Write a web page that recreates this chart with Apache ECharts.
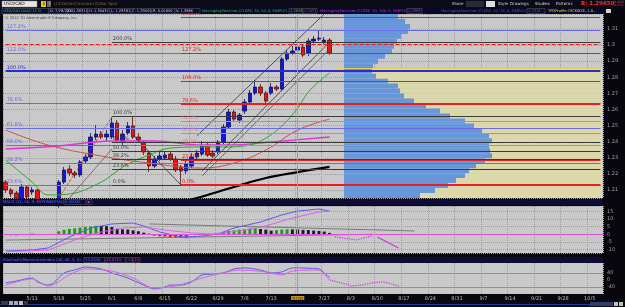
<!DOCTYPE html>
<html>
<head>
<meta charset="utf-8">
<title>USD/CAD daily</title>
<script src="https://cdn.jsdelivr.net/npm/echarts@6.0.0/dist/echarts.min.js"></script>
<style>
html,body{margin:0;padding:0;background:#07070d;}
#main{width:625px;height:307px;}
</style>
</head>
<body>
<div id="main"></div>
<script>
// trading days from 5/4/2015 (weekdays only)
var dates = [];
var d = new Date(2015, 4, 4);
while (dates.length < 113) {
	if (d.getDay() != 0 && d.getDay() != 6) dates.push((d.getMonth() + 1) + "/" + d.getDate());
	d.setDate(d.getDate() + 1);
}

// open, close, low, high
var candles = [
	[1.2149,1.2100,1.2081,1.2162],[1.2100,1.2075,1.2056,1.2112],[1.2081,1.2050,1.2030,1.2094],[1.2044,1.2118,1.2030,1.2137],[1.2118,1.2056,1.2038,1.2131],
	[1.2087,1.2100,1.2069,1.2118],[1.2100,1.2038,1.2020,1.2106],[1.2038,1.2000,1.1980,1.2045],[1.2000,1.1960,1.1920,1.2010],[1.1960,1.2010,1.1930,1.2030],
	[1.2010,1.2149,1.1990,1.2162],[1.2149,1.2224,1.2137,1.2243],[1.2230,1.2205,1.2187,1.2255],[1.2205,1.2193,1.2174,1.2218],[1.2193,1.2274,1.2180,1.2286],
	[1.2280,1.2305,1.2267,1.2323],[1.2305,1.2429,1.2292,1.2454],[1.2429,1.2447,1.2410,1.2503],[1.2447,1.2429,1.2416,1.2466],[1.2429,1.2447,1.2404,1.2472],
	[1.2429,1.2516,1.2416,1.2553],[1.2516,1.2410,1.2398,1.2534],[1.2398,1.2447,1.2379,1.2472],[1.2454,1.2497,1.2441,1.2522],[1.2497,1.2429,1.2416,1.2559],
	[1.2429,1.2410,1.2398,1.2454],[1.2398,1.2336,1.2317,1.2410],[1.2329,1.2249,1.2211,1.2342],[1.2249,1.2292,1.2236,1.2311],[1.2292,1.2311,1.2280,1.2336],
	[1.2298,1.2317,1.2286,1.2336],[1.2323,1.2292,1.2280,1.2342],[1.2292,1.2224,1.2211,1.2311],[1.2243,1.2218,1.2131,1.2255],[1.2218,1.2261,1.2199,1.2280],
	[1.2249,1.2305,1.2236,1.2329],[1.2305,1.2329,1.2292,1.2348],[1.2323,1.2379,1.2311,1.2404],[1.2379,1.2317,1.2305,1.2398],[1.2329,1.2311,1.2298,1.2348],
	[1.2336,1.2398,1.2323,1.2410],[1.2398,1.2491,1.2385,1.2509],[1.2491,1.2584,1.2478,1.2603],[1.2584,1.2540,1.2522,1.2596],[1.2534,1.2565,1.2516,1.2578],
	[1.2590,1.2646,1.2572,1.2665],[1.2646,1.2702,1.2634,1.2721],[1.2702,1.2739,1.2690,1.2783],[1.2739,1.2702,1.2683,1.2758],[1.2702,1.2652,1.2640,1.2714],
	[1.2702,1.2739,1.2690,1.2764],[1.2739,1.2727,1.2714,1.2752],[1.2727,1.2913,1.2714,1.2926],[1.2913,1.2950,1.2901,1.2969],[1.2950,1.2963,1.2938,1.2994],
	[1.2969,1.2988,1.2957,1.3006],[1.2988,1.2938,1.2926,1.3000],[1.2950,1.3025,1.2932,1.3043],[1.3025,1.3037,1.3012,1.3056],[1.3037,1.3043,1.3025,1.3093],
	[1.3019,1.3031,1.3006,1.3050],[1.3031,1.2950,1.2938,1.3043]
];

// moving averages [day index, price]
var ma20 = [[0,1.2286],[5,1.2149],[8,1.2069],[12,1.2075],[18,1.2149],[21,1.2218],[23,1.2261],[27,1.2317],[31,1.2360],[37,1.2367],[41,1.2367],[46,1.2379],[49,1.2422],[52,1.2497],[55,1.2609],[57,1.2708],[60,1.2801],[61,1.2826]];
var ma50 = [[0,1.2472],[8,1.2379],[18,1.2311],[27,1.2267],[37,1.2236],[43,1.2267],[49,1.2348],[55,1.2472],[61,1.2540]];
var ma100 = [[0,1.2354],[10,1.2373],[20,1.2404],[28,1.2404],[37,1.2379],[42,1.2379],[50,1.2398],[61,1.2429]];
var ma200 = [[30,1.2000],[36,1.2050],[43,1.2118],[49,1.2174],[55,1.2211],[61,1.2243]];

// fib levels
var blueFibPct = ['127.2%','112.0%','100.0%','78.6%','61.8%','50.0%','38.2%','23.6%'];
var blueFibPrice = [1.3093,1.2950,1.2839,1.2641,1.2485,1.2376,1.2266,1.2131];
var redFibPct = ['161.8%','127.2%','100.0%','78.6%','61.8%','50.0%','38.2%','23.6%','0.0%'];
var redFibPrice = [1.3171,1.2949,1.2774,1.2635,1.2527,1.2452,1.2377,1.2282,1.2131];
var blackFibPct = ['200.0%','161.8%','100.0%','61.8%','50.0%','38.2%','23.6%','0.0%'];
var blackFibPrice = [1.3015,1.2845,1.2558,1.2394,1.2343,1.2293,1.2229,1.2129];
var dashedLevel = 1.3006;
var tpoLevel = 1.2858;
var lastPrice = 1.2950;

// drawn trend lines [day index, price]
var channelUp = [[36,1.2435],[60,1.3193]];
var channelLow1 = [[37,1.2218],[61,1.3019]];
var channelLow2 = [[37,1.2187],[61,1.2975]];
var fibAnchor = [[10,1.2050],[20,1.2553]];
var grayLeg = [[12,1.2050],[20,1.2354]];
var blackLeg = [[24,1.2441],[33,1.2131]];

// volume profile bins, top to bottom
var profileVol = [54,61,66,64,57,53,50,48,41,34,29,28,32,44,54,56,60,70,82,96,106,121,130,138,145,148,145,146,148,141,132,125,121,112,104,91,76];
var valueArea = [0,0,0,0,0,0,0,0,0,0,0,258,258,258,258,258,258,258,258,258,258,258,258,258,258,258,258,258,258,258,258,258,258,258,258,258,258];

// MACD
var macdHist = [-0.5,-0.6,-0.7,0,0,0.5,0,0,0,0,
	2.0,2.9,3.5,3.9,4.4,4.9,5.2,5.6,5.5,5.3,4.8,3.7,3.3,3.1,2.6,2.0,1.1,0.4,
	-0.9,-1.3,-1.5,-1.8,-2.2,-2.4,-2.6,-1.8,-1.1,-0.7,-0.5,
	0.2,0.9,1.5,2.2,2.6,3.1,3.3,3.7,3.9,3.5,3.1,2.4,2.8,3.1,3.3,3.2,3.1,2.9,2.8,2.4,2.2,1.8,0.9];
var macdLine = [[0,-11.0],[5,-10.3],[8,-9.0],[12,-1.8],[16,4.1],[20,6.8],[24,7.4],[26,5.5],[29,1.5],[33,-1.8],[37,-1.1],[40,0.2],[43,4.1],[48,8.1],[52,12.7],[55,15.3],[59,16.6],[61,15.3]];
var macdSignal = [[0,-11.4],[8,-10.4],[14,-2.4],[18,1.5],[22,4.1],[26,4.8],[30,2.8],[35,0.9],[39,0.2],[44,2.2],[49,5.5],[54,10.7],[59,14.7],[61,15.3]];
var macdTrend1 = [[27,6.8],[77,2.2]];
var macdTrend2 = [[0,-3.8],[69,0]];
var macdProjDot = [[62,-1.8],[66,-3.7],[69,-1.1]];
var macdProj = [[70,-1.8],[74,-9.0]];

// stochastic momentum index
var smiLine = [[0,-17],[2,-6],[5,11],[6,-11],[8,-29],[9,-17],[11,40],[13,57],[15,74],[18,63],[20,40],[23,11],[26,-29],[28,-51],[30,-40],[31,-29],[33,-29],[35,-11],[37,29],[39,34],[41,40],[43,63],[45,69],[48,57],[50,40],[52,46],[54,69],[59,63],[60,40],[61,15]];
var smiSignal = [[0,-29],[5,6],[8,-34],[12,29],[15,63],[20,51],[24,11],[28,-46],[32,-34],[37,11],[40,34],[44,57],[49,46],[52,29],[54,51],[59,57],[60,34],[61,0]];
var smiProj = [[61,0],[64,-23],[65,-34],[67,-29],[69,-17],[71,-11],[72,-17],[74,-34]];
var smiLevels = [40,-40];
var smiLast = 15.2244;

var panelGray = '#c9c9c9';
var font = '"DejaVu Sans", sans-serif';
var lastIdx = 112;

function hline(price, from, color, width, pct, type, hideLine) {
	return [[{coord:[from, price], lineStyle:{color:color, width:width, type:type || 'solid', opacity:hideLine ? 0 : 1},
		label:{show:!!pct, position:'insideStartTop', formatter:pct || '', color:color, fontSize:5, fontFamily:font, distance:1}},
		{coord:[lastIdx, price]}]];
}
function priceTag(price, from, color) {
	return [{coord:[from, price], lineStyle:{color:color, width:1, opacity:0},
		label:{show:true, position:'insideEndTop', formatter:'[' + price.toFixed(4) + ']', color:color, fontSize:5, fontFamily:font, distance:1}},
		{coord:[lastIdx, price]}];
}

var lines = [];
var i;
for (i = 0; i < blueFibPrice.length; i++) {
	lines = lines.concat(hline(blueFibPrice[i], 0, i == 2 ? '#2a2ad8' : '#6b6be8', i == 2 ? 2 : 1, blueFibPct[i]));
}
lines.push(priceTag(blueFibPrice[0], 0, '#3a3ad0'));
lines.push(priceTag(blueFibPrice[4], 0, '#3a3ad0'));
for (i = 0; i < blackFibPrice.length; i++) {
	lines = lines.concat(hline(blackFibPrice[i], 20, '#3a3a3a', 1, blackFibPct[i], null, i == 1));
	if (i != 1 && i != 7) lines.push(priceTag(blackFibPrice[i], 20, '#202020'));
}
for (i = 0; i < redFibPrice.length; i++) {
	var pink = (i == 4 || i == 5 || i == 6);
	lines = lines.concat(hline(redFibPrice[i], 33, pink ? '#e87a7a' : '#e42020', (i == 8 || i == 3) ? 2 : 1, redFibPct[i]));
	lines.push(priceTag(redFibPrice[i], 33, '#d01818'));
}
lines = lines.concat(hline(dashedLevel, 0, '#e81a1a', 1, null, 'dashed'));
lines = lines.concat(hline(tpoLevel, 62, '#e8d040', 1));
lines.push([{coord:[0, lastPrice], lineStyle:{opacity:0},
	label:{show:true, position:'end', formatter:lastPrice.toFixed(4), color:'#fff', backgroundColor:'#e01010', fontSize:5, fontFamily:font, padding:[1,1], distance:1}},
	{coord:[lastIdx, lastPrice]}]);
lines.push([{coord:[0, tpoLevel], lineStyle:{opacity:0},
	label:{show:true, position:'end', formatter:tpoLevel.toFixed(4), color:'#201000', backgroundColor:'#d08a20', fontSize:5, fontFamily:font, padding:[1,1], distance:1}},
	{coord:[lastIdx, tpoLevel]}]);
lines.push({xAxis:55, lineStyle:{color:'#b89a6a', width:1, type:'solid'}, label:{show:false}});

function histColor(idx) {
	var v = macdHist[idx], p = idx > 0 ? macdHist[idx - 1] : v;
	if (v >= 0) return v >= p ? '#18a018' : '#1c1c2c';
	return v <= p ? '#e01818' : '#f2f2f2';
}
var histData = macdHist.map(function (v, idx) {
	return {value:v, itemStyle:{color:histColor(idx)}};
});

function trend(name, data, xi, yi, color, width, type) {
	return {name:name, type:'line', xAxisIndex:xi, yAxisIndex:yi, data:data, symbol:'none', silent:true,
		lineStyle:{color:color, width:width || 1, type:type || 'solid'}, z:3};
}
function ma(name, data, color, width) {
	return {name:name, type:'line', xAxisIndex:0, yAxisIndex:0, data:data, symbol:'none', smooth:0.4, silent:true,
		lineStyle:{color:color, width:width || 1}, z:3};
}

var weekly = function (idx) { return idx % 5 == 0; };
function catAxis(grid, showLabel) {
	return {type:'category', gridIndex:grid, data:dates, boundaryGap:true,
		axisLine:{show:false}, axisTick:{show:false},
		axisLabel:{show:showLabel, interval:function (idx) { return idx % 5 == 0 && idx > 0; },
			color:'#c8bea8', fontSize:5, fontFamily:font, margin:2,
			formatter:function (v) { return v == '7/20' ? '{hl|' + v + '}' : v; },
			rich:{hl:{backgroundColor:'#c8901c', color:'#2a1800', fontSize:5, padding:[1,1]}}},
		splitLine:{show:true, interval:weekly, lineStyle:{color:'#9c9c9c', type:'dotted', width:1}}};
}
function valAxis(grid, min, max, extra) {
	var ax = {type:'value', gridIndex:grid, position:'right', min:min, max:max, scale:true,
		axisLine:{show:false}, axisTick:{show:false},
		axisLabel:{color:'#a0a0a0', fontSize:5, fontFamily:font, margin:4, showMinLabel:false, showMaxLabel:false},
		splitLine:{show:true, lineStyle:{color:'#9c9c9c', type:'dotted', width:1}}};
	for (var k in extra) ax[k] = extra[k];
	return ax;
}

function txt(x, y, s, color, size, weight) {
	return {type:'text', x:x, y:y, silent:true, z:100,
		style:{text:s, fill:color, fontSize:size || 4, fontFamily:font, fontWeight:weight || 'normal'}};
}
function box(x, y, w, h, fill, stroke) {
	return {type:'rect', silent:true, z:99, shape:{x:x, y:y, width:w, height:h},
		style:{fill:fill, stroke:stroke || null, lineWidth:stroke ? 0.5 : 0}};
}

var graphics = [
	box(0, 0, 625, 8, '#0b0b18'),
	box(2, 1, 35, 6, '#e6e6e6', '#888'), txt(4, 1.5, 'USD/CAD', '#000', 4.5),
	box(41, 1, 5, 6, '#e8c820'), txt(42.5, 1.5, '1', '#000', 4.5),
	box(47, 1, 4, 6, '#6a6a6a'), txt(48.5, 1.5, '!', '#ddd', 4.5),
	txt(54, 2, 'U.S.Dollar/Canadian Dollar Spot', '#7a6a3a', 4),
	txt(452, 2, 'Share', '#d8d8d8', 4), box(466, 1, 18, 6, '#2a2a3a'), box(486, 1, 9, 6, '#e0e0e0'),
	txt(498, 2, 'Style', '#d8d8d8', 4), txt(510, 2, 'Drawings', '#d8d8d8', 4),
	txt(535, 2, 'Studies', '#d8d8d8', 4), txt(556, 2, 'Patterns', '#d8d8d8', 4),
	txt(581, 1, 'B: 1.29650', '#ff2a2a', 5.5, 'bold'),
	txt(613, 0.5, '-0.0021', '#ff3030', 3), txt(613, 3.8, '-0.17%', '#ff3030', 3),
	box(0, 8, 603, 6, '#08082a'),
	box(2, 8.5, 47, 5, '#0c0c30', '#606060'), txt(3.5, 9.3, 'USD/CAD DAILY 1Y D', '#38c838', 3.6),
	box(49, 8.5, 18, 5, '#0c0c30', '#606060'), txt(50, 9.3, 'D: 7/28/2015', '#d0d0d0', 3.6),
	box(67, 8.5, 21, 5, '#0c0c30', '#606060'), txt(68, 9.3, 'O: 1.30311', '#d0d0d0', 3.6),
	box(88, 8.5, 22, 5, '#0c0c30', '#606060'), txt(89, 9.3, 'H: 1.30431', '#d0d0d0', 3.6),
	box(110, 8.5, 21, 5, '#0c0c30', '#606060'), txt(111, 9.3, 'L: 1.29381', '#d0d0d0', 3.6),
	box(131, 8.5, 21, 5, '#0c0c30', '#606060'), txt(132, 9.3, 'C: 1.29501', '#d0d0d0', 3.6),
	box(152, 8.5, 23, 5, '#0c0c30', '#606060'), txt(153, 9.3, 'R: 0.01050', '#d0d0d0', 3.6),
	box(175, 8.5, 25, 5, '#0c0c30', '#606060'), txt(176, 9.3, 'V: 1.386K', '#d0d0d0', 3.6),
	txt(202, 9.3, 'MovingAvgTwoLines (CLOSE, 20, 50, 0, SIMPLE)', '#30c030', 3.6),
	box(289, 8.5, 14, 5, '#0c0c30', '#606060'), txt(290, 9.3, '1.2826', '#30c030', 3.6),
	box(303, 8.5, 14, 5, '#0c0c30', '#606060'), txt(304, 9.3, '1.2437', '#e03030', 3.6),
	txt(320, 9.3, 'MovingAvgTwoLines (CLOSE, 50, 100, 0, SIMPLE)', '#d030d0', 3.6),
	box(407, 8.5, 15, 5, '#0c0c30', '#606060'), txt(408, 9.3, '1.2393', '#d030d0', 3.6),
	txt(441, 9.3, 'MovingAvgTwoLines (CLOSE, 10, 55, 0, SIMPLE)', '#606070', 3.6),
	box(527, 8.5, 18, 5, '#0c0c30', '#606060'), txt(528, 9.3, '1.2310', '#606070', 3.6),
	txt(548, 9.3, 'TPOProfile (TICKSIZE, 1.0...', '#e8e020', 3.6),
	box(606, 9, 5, 4, '#d0d0d0'),
	txt(5, 16, '\u00a9 2015 TD Ameritrade IP Company, Inc.', '#404040', 3.6),
	box(0, 199, 603, 6, '#0c0c34'),
	txt(3, 200, 'MACD (12, 26, 9, EXPONENTIAL)', '#5a6aff', 3.8),
	box(64, 199.5, 22, 5, '#0c0c34', '#606060'), txt(65, 200.2, '0.00035', '#5a6aff', 3.8),
	box(87, 199.5, 5, 5, '#0c0c34', '#606060'), txt(88, 200.2, '\u25b6', '#d030d0', 3.5),
	box(0, 257, 603, 6, '#0c0c34'),
	txt(3, 258, 'StochasticMomentumIndex (40, 40, 3, 3)', '#5a6aff', 3.8),
	box(84, 257.5, 21, 5, '#0c0c34', '#606060'), txt(85, 258.2, '15.2244', '#5a6aff', 3.8),
	box(105, 257.5, 21, 5, '#0c0c34', '#606060'), txt(106, 258.2, '45.6155', '#d030d0', 3.8),
	box(126, 257.5, 7, 5, '#0c0c34', '#606060'), txt(127, 258.2, '-40', '#e03030', 3.8),
	box(133, 257.5, 7, 5, '#0c0c34', '#606060'), txt(134, 258.2, '40', '#e03030', 3.8),
	box(0, 300, 625, 7, '#0a0a12'),
	box(0, 304, 603, 1, '#1c3c9a'),
	box(1, 301, 7, 4, '#3a3a4a'), box(9, 301, 4, 4, '#9ab0c8'), box(14, 301, 4, 4, '#9ab0c8'),
	box(19, 301, 4, 4, '#c0c0c0'), box(24, 301, 4, 4, '#3a3a4a'),
	box(590, 302, 23, 4, '#2c4070'), box(614, 302, 4, 4, '#c0c0c0'), box(619, 302, 4, 4, '#c0c0c0')
];

var option = {
	backgroundColor: '#07070d',
	animation: false,
	grid: [
		{left:3, top:14, width:600, height:184, show:true, backgroundColor:panelGray, borderWidth:0},
		{left:344, top:14, width:259, height:184, show:false},
		{left:3, top:206, width:600, height:47, show:true, backgroundColor:panelGray, borderWidth:0},
		{left:3, top:263, width:600, height:31, show:true, backgroundColor:panelGray, borderWidth:0}
	],
	xAxis: [
		catAxis(0, false),
		{type:'value', gridIndex:1, min:0, max:259, show:false},
		catAxis(2, false),
		catAxis(3, true)
	],
	yAxis: [
		valAxis(0, 1.2050, 1.3193, {splitNumber:11}),
		{type:'category', gridIndex:1, inverse:true, data:profileVol.map(function (v, k) { return k; }), show:false},
		valAxis(2, -12.3, 18.6, {splitNumber:6}),
		valAxis(3, -80, 97, {interval:40, splitLine:{show:false},
			axisLabel:{color:'#a0a0a0', fontSize:5, fontFamily:font, margin:4,
				formatter:function (v) { return (v == 40 || v == 0 || v == -40) ? v : ''; }}})
	],
	graphic: graphics,
	series: [
		{name:'valueArea', type:'bar', xAxisIndex:1, yAxisIndex:1, data:valueArea, barCategoryGap:'0%', barGap:'-100%',
			itemStyle:{color:'#dcd8aa'}, silent:true},
		{name:'profile', type:'bar', xAxisIndex:1, yAxisIndex:1, data:profileVol, barCategoryGap:'0%', barGap:'-100%',
			itemStyle:{color:'#6796da'}, silent:true},
		{name:'USD/CAD', type:'candlestick', xAxisIndex:0, yAxisIndex:0, data:candles, barWidth:4, clip:true,
			itemStyle:{color:'#1414e6', color0:'#e61414', borderColor:'#121250', borderColor0:'#501212', borderWidth:0.8},
			markLine:{symbol:['none','none'], silent:true, animation:false, data:lines}},
		ma('ma200', ma200, '#000000', 2.2),
		ma('ma100', ma100, '#e030e0', 1.4),
		ma('ma50', ma50, '#c85050', 1),
		ma('ma20', ma20, '#2ea82e', 1),
		trend('channelUp', channelUp, 0, 0, '#303030', 0.8),
		trend('channelLow1', channelLow1, 0, 0, '#303030', 0.8),
		trend('channelLow2', channelLow2, 0, 0, '#505050', 0.8),
		trend('fibAnchor', fibAnchor, 0, 0, '#e02020', 0.8, 'dashed'),
		trend('grayLeg', grayLeg, 0, 0, '#606060', 0.8),
		trend('blackLeg', blackLeg, 0, 0, '#303030', 0.8),
		{name:'hist', type:'bar', xAxisIndex:2, yAxisIndex:2, data:histData, barWidth:3,
			markLine:{symbol:['none','none'], silent:true, animation:false, label:{show:false},
				data:[{yAxis:0, lineStyle:{color:'#e050e0', width:1, type:'solid'}},
					{xAxis:55, lineStyle:{color:'#b89a6a', width:1, type:'solid'}}]}},
		trend('macdTrend1', macdTrend1, 2, 2, '#7a7a7a', 1),
		trend('macdTrend2', macdTrend2, 2, 2, '#7a7a7a', 1),
		trend('macd', macdLine, 2, 2, '#5a5af0', 1),
		trend('signal', macdSignal, 2, 2, '#e060e0', 1),
		trend('macdProjDot', macdProjDot, 2, 2, '#d030e0', 1.2, 'dotted'),
		trend('macdProj', macdProj, 2, 2, '#d030e0', 1.2),
		{name:'smi', type:'line', xAxisIndex:3, yAxisIndex:3, data:smiLine, symbol:'none', smooth:0.3,
			lineStyle:{color:'#5a5af0', width:1}, z:3,
			markLine:{symbol:['none','none'], silent:true, animation:false,
				data:[{yAxis:smiLevels[0], lineStyle:{color:'#e07070', width:1, type:'solid'}, label:{show:false}},
					{yAxis:smiLevels[1], lineStyle:{color:'#e07070', width:1, type:'solid'}, label:{show:false}},
					{xAxis:55, lineStyle:{color:'#b89a6a', width:1, type:'solid'}, label:{show:false}},
					{yAxis:smiLast, lineStyle:{opacity:0},
						label:{show:true, position:'end', formatter:String(smiLast), color:'#fff', backgroundColor:'#2a3ae0', fontSize:5, fontFamily:font, padding:[1,1], distance:1}}]}},
		{name:'smiSignal', type:'line', xAxisIndex:3, yAxisIndex:3, data:smiSignal, symbol:'none', smooth:0.3,
			lineStyle:{color:'#e060e0', width:1}, z:3},
		trend('smiProj', smiProj, 3, 3, '#d030e0', 1.2, 'dotted')
	]
};

var chart = echarts.init(document.getElementById('main'));
chart.setOption(option);
</script>
</body>
</html>
